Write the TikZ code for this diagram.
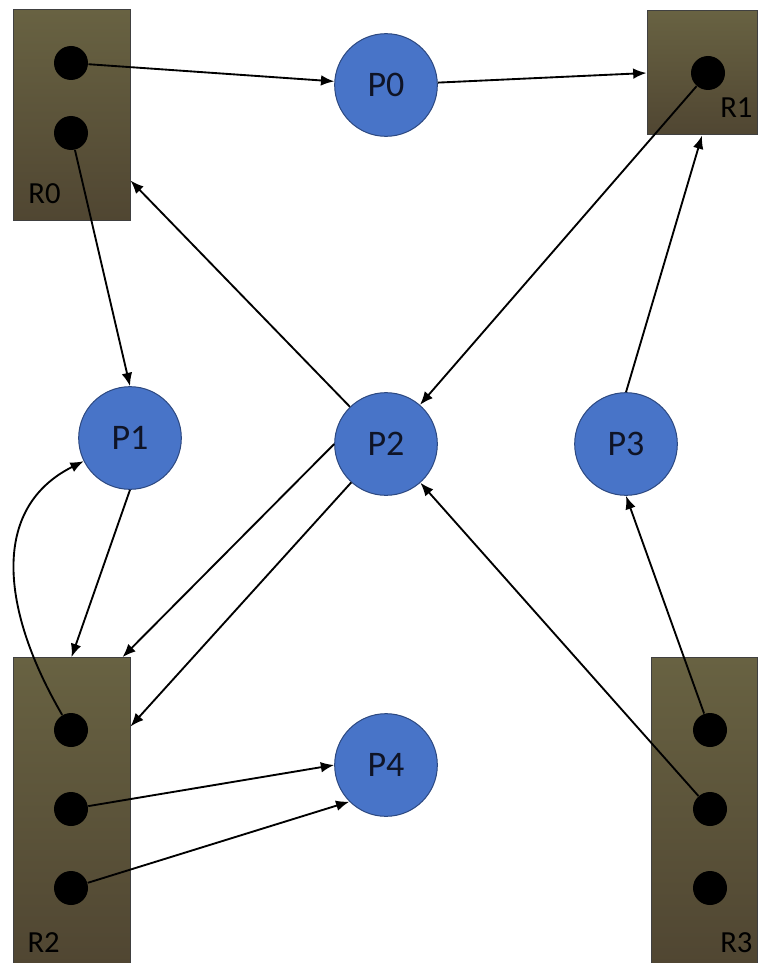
\documentclass[tikz,border=0pt]{standalone}
\usepackage{fontspec}
\setmainfont{Carlito}
\usetikzlibrary{arrows.meta}

\definecolor{procblue}{RGB}{72,116,200}
\definecolor{procedge}{RGB}{44,72,128}
\definecolor{proctext}{RGB}{15,20,38}
\definecolor{restop}{RGB}{104,98,66}
\definecolor{resbot}{RGB}{80,70,50}

\tikzset{every picture/.style={line width=0.75pt}}
\tikzset{
  proc/.style={circle, draw=procedge, fill=procblue, minimum size=77pt, inner sep=0pt,
    font=\fontsize{27}{32}\selectfont, text=proctext},
  res/.style={rectangle, draw=black!75, top color=restop, bottom color=resbot, inner sep=0pt},
  tok/.style={circle, fill=black, minimum size=25.5pt, inner sep=0pt},
  rlabel/.style={inner sep=0pt, font=\fontsize{23}{27}\selectfont, text=black},
  link/.style={-{Latex[length=10pt,width=8pt]}, line width=1.4pt}
}

\begin{document}
\begin{tikzpicture}[x=0.75pt,y=0.75pt,yscale=-1,xscale=1]

\useasboundingbox (0,0) rectangle (758,963);

% resources
\draw (71.5,115) node [res, minimum width=87.75pt, minimum height=157.5pt] (R0) {};
\draw (702,73) node [res, minimum width=82.5pt, minimum height=93pt] (R1) {};
\draw (71.5,811) node [res, minimum width=87.75pt, minimum height=230pt] (R2) {};
\draw (704.5,811) node [res, minimum width=79.5pt, minimum height=230pt] (R3) {};

\draw (28,203) node [rlabel, anchor=base west] (R0lbl) {R0};
\draw (753,118) node [rlabel, anchor=base east] (R1lbl) {R1};
\draw (27,952) node [rlabel, anchor=base west] (R2lbl) {R2};
\draw (753,952) node [rlabel, anchor=base east] (R3lbl) {R3};

% instances
\draw (71,63) node [tok] (R0a) {};
\draw (71,133) node [tok] (R0b) {};
\draw (708,73) node [tok] (R1a) {};
\draw (71,730) node [tok] (R2a) {};
\draw (71,809) node [tok] (R2b) {};
\draw (71,888) node [tok] (R2c) {};
\draw (710,730) node [tok] (R3a) {};
\draw (710,809) node [tok] (R3b) {};
\draw (710,888) node [tok] (R3c) {};

% processes
\draw (386,85) node [proc] (P0) {P0};
\draw (130,438) node [proc] (P1) {P1};
\draw (386,444) node [proc] (P2) {P2};
\draw (626,444) node [proc] (P3) {P3};
\draw (386,765) node [proc] (P4) {P4};

% edges
\draw [link] (R0a) -- (P0);
\draw [link] (P0) -- (R1.west);
\draw [link] (R0b) -- (P1.north);
\draw [link] (R1a) -- (P2);
\draw [link] (P2) -- ([yshift=-30pt]R0.south east);
\draw [link] (P3.north) -- (R1.south);
\draw [link] (R3a) -- (P3.south);
\draw [link] (R3b) -- (P2);
\draw [link] (P1.south) -- (R2.north);
\draw [link] (P2.west) -- ([xshift=-6pt]R2.north east);
\draw [link] (P2) -- ([yshift=52pt]R2.north east);
\draw [link] (R2a) .. controls +(-70,-120) and +(-140,70) .. (P1);
\draw [link] (R2b) -- (P4.west);
\draw [link] (R2c) -- (P4.225);

\end{tikzpicture}
\end{document}
